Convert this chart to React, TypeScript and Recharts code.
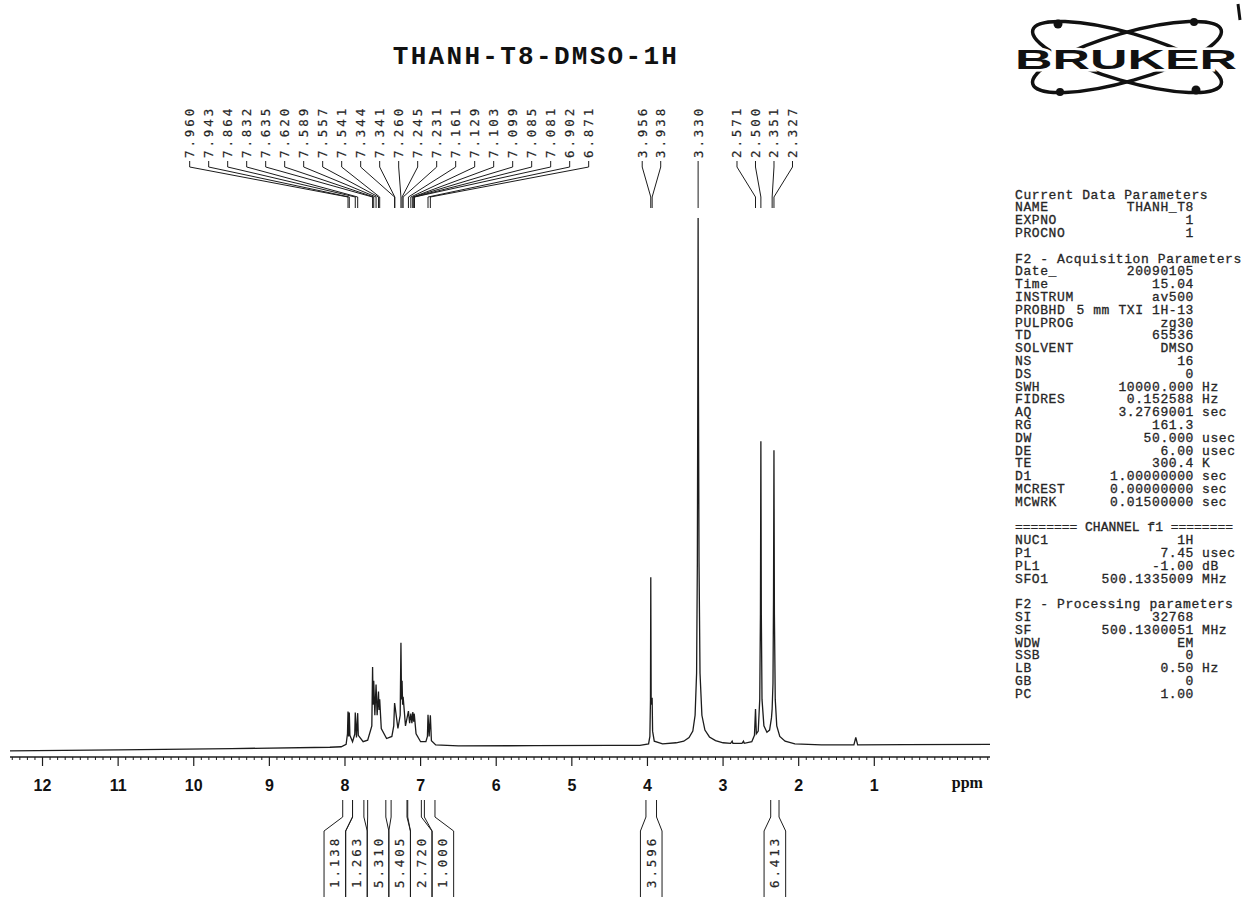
import { LineChart, Line, XAxis, YAxis, ReferenceDot } from "recharts";

// ppm axis (reversed) and intensity scale: the 3.330 ppm peak = 100
const X_MIN = -0.53;
const X_MAX = 12.43;
const Y_MIN = -1.89;
const Y_MAX = 100;
const CHART_W = 1000;
const CHART_H = 897;
const MARGIN = { top: 218, right: 10, bottom: 100, left: 10 };
const PX_PER_PPM = (CHART_W - MARGIN.left - MARGIN.right) / (X_MAX - X_MIN);

// spectrum trace, [ppm, intensity]
const baselineLeft = [
  [12.43, -0.75], [11.0, -0.55], [9.5, -0.3], [8.2, -0.05], [8.05, 0.05],
];
const aromaticTrace = [
  [7.985, 0.5], [7.967, 2.5], [7.96, 6.7], [7.952, 2.0], [7.943, 6.5], [7.935, 2.2],
  [7.9, 1.0], [7.871, 2.4], [7.864, 6.5], [7.848, 1.8], [7.832, 6.4], [7.824, 2.2],
  [7.76, 1.0], [7.7, 1.3], [7.645, 4], [7.635, 15.1], [7.628, 8], [7.62, 12.5],
  [7.605, 6], [7.589, 11.8], [7.575, 6], [7.557, 10.5], [7.549, 7], [7.541, 9],
  [7.52, 3.5], [7.45, 1.6], [7.38, 2.0], [7.355, 4], [7.344, 8.3], [7.341, 8.0],
  [7.3, 3.5], [7.27, 6], [7.26, 19.7], [7.252, 9], [7.245, 12.5], [7.238, 8],
  [7.231, 9.5], [7.2, 4], [7.161, 6.8], [7.145, 4.5], [7.129, 6.3], [7.115, 4.5],
  [7.103, 6.6], [7.099, 6.0], [7.092, 4.8], [7.085, 6.3], [7.081, 5.8], [7.06, 2.5],
  [7.0, 1.0], [6.93, 1.0], [6.91, 2.0], [6.902, 6.1], [6.887, 2.0], [6.871, 6.0],
  [6.857, 1.2], [6.8, 0.4],
];
const midBaseline = [[6.5, 0.2], [5.5, 0.25], [4.5, 0.3], [4.1, 0.3]];
const methoxyTrace = [
  [3.985, 0.6], [3.968, 2], [3.96, 9], [3.956, 32.1], [3.951, 9], [3.943, 8],
  [3.938, 9.3], [3.932, 3], [3.91, 1.1], [3.8, 0.6],
];
const waterTrace = [
  [3.62, 0.8], [3.52, 1.1], [3.45, 1.8], [3.4, 3.0], [3.37, 6], [3.35, 14],
  [3.34, 35], [3.334, 70], [3.33, 100], [3.326, 70], [3.318, 35], [3.305, 14],
  [3.28, 6], [3.24, 3.2], [3.18, 1.9], [3.1, 1.2], [3.0, 0.8],
];
const dmsoTrace = [
  [2.9, 0.7], [2.88, 1.1], [2.87, 0.7], [2.75, 0.7], [2.73, 1.1], [2.72, 0.7],
  [2.62, 1.0], [2.585, 2.2], [2.571, 7.2], [2.56, 2.5], [2.535, 3.0], [2.515, 9],
  [2.506, 25], [2.5, 57.8], [2.494, 25], [2.485, 9], [2.46, 4.0], [2.42, 2.8],
  [2.385, 3.2], [2.36, 5.5], [2.351, 7.2], [2.34, 12], [2.333, 28], [2.327, 56.1],
  [2.321, 25], [2.31, 9], [2.29, 4], [2.25, 2.0], [2.18, 1.1], [2.05, 0.6],
];
const baselineRight = [
  [1.7, 0.4], [1.27, 0.4], [1.245, 1.8], [1.22, 0.4], [0.6, 0.45], [-0.53, 0.5],
];

// peak picking labels
const aromaticShifts = [
  "7.960", "7.943", "7.864", "7.832", "7.635", "7.620", "7.589", "7.557", "7.541",
  "7.344", "7.341", "7.260", "7.245", "7.231", "7.161", "7.129", "7.103", "7.099",
  "7.085", "7.081", "6.902", "6.871",
];
const methoxyShifts = ["3.956", "3.938"];
const waterShifts = ["3.330"];
const methylShifts = ["2.571", "2.500", "2.351", "2.327"];

// integrals
const aromaticIntegrals = ["1.138", "1.263", "5.310", "5.405", "2.720", "1.000"];
const aromaticRanges = [
  [8.03, 7.9], [7.9, 7.75], [7.7, 7.46], [7.39, 7.18], [7.17, 6.99], [6.95, 6.81],
];
const methoxyIntegrals = ["3.596"];
const methoxyRanges = [[4.02, 3.88]];
const methylIntegrals = ["6.413"];
const methylRanges = [[2.37, 2.26]];

// axis
const majorTicks = [12, 11, 10, 9, 8, 7, 6, 5, 4, 3, 2, 1];
const majorTickLabels = ["12", "11", "10", "9", "8", "7", "6", "5", "4", "3", "2", "1"];
const unitTick = -0.23;
const unitLabel = "ppm";
const minorTicks = Array.from({ length: 130 }, (_, i) => Math.round(-5 + i) / 10);

// parameter listing
const currentParams = [["NAME", "THANH_T8", ""], ["EXPNO", "1", ""], ["PROCNO", "1", ""]];
const acquisitionParams = [
  ["Date_", "20090105", ""], ["Time", "15.04", ""], ["INSTRUM", "av500", ""],
  ["PROBHD", "5 mm TXI 1H-13", ""], ["PULPROG", "zg30", ""], ["TD", "65536", ""],
  ["SOLVENT", "DMSO", ""], ["NS", "16", ""], ["DS", "0", ""],
  ["SWH", "10000.000", "Hz"], ["FIDRES", "0.152588", "Hz"], ["AQ", "3.2769001", "sec"],
  ["RG", "161.3", ""], ["DW", "50.000", "usec"], ["DE", "6.00", "usec"],
  ["TE", "300.4", "K"], ["D1", "1.00000000", "sec"], ["MCREST", "0.00000000", "sec"],
  ["MCWRK", "0.01500000", "sec"],
];
const channelParams = [
  ["NUC1", "1H", ""], ["P1", "7.45", "usec"], ["PL1", "-1.00", "dB"],
  ["SFO1", "500.1335009", "MHz"],
];
const processingParams = [
  ["SI", "32768", ""], ["SF", "500.1300051", "MHz"], ["WDW", "EM", ""], ["SSB", "0", ""],
  ["LB", "0.50", "Hz"], ["GB", "0", ""], ["PC", "1.00", ""],
];

const spectrum = [
  ...baselineLeft, ...aromaticTrace, ...midBaseline, ...methoxyTrace,
  ...waterTrace, ...dmsoTrace, ...baselineRight,
].map(([ppm, v]) => ({ ppm, v }));

const INK = "#1c1c1c";
const TAG_FONT = {
  fontFamily: "DejaVu Sans Mono",
  fontSize: 12.5,
  letterSpacing: 2.9,
  fill: "#262626",
  stroke: "#262626",
  strokeWidth: 0.2,
};

function PeakTag({ cx, lx, text }: { cx: number; lx: number; text: string }) {
  return (
    <g>
      <text x={lx} y={158} transform={`rotate(-90 ${lx} 158)`} dominantBaseline="central" {...TAG_FONT}>
        {text}
      </text>
      <polyline
        points={`${lx},161 ${lx},167 ${cx},197 ${cx},208`}
        fill="none"
        stroke={INK}
        strokeWidth={1}
      />
    </g>
  );
}

function IntegralTag({ xa, xb, bl, br, bc, text }: any) {
  return (
    <g>
      <polyline points={`${xa},800 ${xa},817 ${bl},831 ${bl},897`} fill="none" stroke={INK} strokeWidth={1} />
      <polyline points={`${xb},800 ${xb},817 ${br},831 ${br},897`} fill="none" stroke={INK} strokeWidth={1} />
      <text x={bc} y={888} transform={`rotate(-90 ${bc} 888)`} dominantBaseline="central" {...TAG_FONT}>
        {text}
      </text>
    </g>
  );
}

function AxisTick(props: any) {
  const { x, y, payload } = props;
  const v = payload.value;
  if (v === unitTick) {
    return (
      <text x={x} y={y + 31} textAnchor="middle" fontFamily="Liberation Serif" fontWeight={700} fontSize={16} fill="#111">
        {unitLabel}
      </text>
    );
  }
  const mi = majorTicks.indexOf(v);
  if (mi >= 0) {
    return (
      <g>
        <line x1={x} y1={y} x2={x} y2={y + 9} stroke={INK} strokeWidth={1.2} />
        <text x={x} y={y + 34} textAnchor="middle" fontFamily="Liberation Sans" fontWeight={700} fontSize={16} fill="#111">
          {majorTickLabels[mi]}
        </text>
      </g>
    );
  }
  return <line x1={x} y1={y} x2={x} y2={y + 3} stroke={INK} strokeWidth={1} />;
}

const peakGroups = [
  { shifts: aromaticShifts, spacing: 19 },
  { shifts: methoxyShifts, spacing: 18.5 },
  { shifts: waterShifts, spacing: 18.5 },
  { shifts: methylShifts, spacing: 18.5 },
];
const integralGroups = [
  { labels: aromaticIntegrals, ranges: aromaticRanges },
  { labels: methoxyIntegrals, ranges: methoxyRanges },
  { labels: methylIntegrals, ranges: methylRanges },
];
const BOX_W = 21.6;

function ParamPanel() {
  const x0 = 1015;
  const valueEnd = 1194;
  const unitX = 1202;
  const step = 12.8;
  const rows: any[] = [];
  let y = 195;
  const heading = (t: string, fit?: number) => {
    rows.push({ y, head: t, fit });
    y += step;
  };
  const block = (list: string[][]) => {
    list.forEach((r) => {
      rows.push({ y, r });
      y += step;
    });
    y += step;
  };
  heading("Current Data Parameters");
  block(currentParams);
  heading("F2 - Acquisition Parameters");
  block(acquisitionParams);
  heading("======== CHANNEL f1 ========", 218);
  block(channelParams);
  heading("F2 - Processing parameters");
  block(processingParams);
  const font = {
    fontFamily: "Liberation Mono",
    fontSize: 13,
    letterSpacing: 0.6,
    fill: "#262626",
    stroke: "#262626",
    strokeWidth: 0.3,
  };
  return (
    <g>
      {rows.map((row, i) =>
        row.head ? (
          <text
            key={i}
            x={x0}
            y={row.y}
            dominantBaseline="central"
            {...font}
            {...(row.fit
              ? { textLength: row.fit, lengthAdjust: "spacingAndGlyphs", letterSpacing: 0, fontSize: 12 }
              : {})}
          >
            {row.head}
          </text>
        ) : (
          <g key={i}>
            <text x={x0} y={row.y} dominantBaseline="central" {...font}>{row.r[0]}</text>
            <text x={valueEnd} y={row.y} dominantBaseline="central" textAnchor="end" {...font} style={{ whiteSpace: "pre" }}>
              {row.r[1]}
            </text>
            {row.r[2] && (
              <text x={unitX} y={row.y} dominantBaseline="central" {...font}>{row.r[2]}</text>
            )}
          </g>
        )
      )}
    </g>
  );
}

function Logo() {
  const cx = 1127;
  const cy = 57;
  return (
    <g>
      <ellipse cx={cx} cy={cy} rx={98} ry={24} transform={`rotate(16 ${cx} ${cy})`} fill="none" stroke="#111" strokeWidth={3.5} />
      <ellipse cx={cx} cy={cy} rx={98} ry={24} transform={`rotate(-16 ${cx} ${cy})`} fill="none" stroke="#111" strokeWidth={3.5} />
      <circle cx={1058} cy={24} r={4.5} fill="#111" />
      <circle cx={1196} cy={90} r={4.5} fill="#111" />
      <circle cx={1060} cy={92} r={4} fill="#111" />
      <circle cx={1194} cy={22} r={4} fill="#111" />
      <text
        x={1015}
        y={cy + 12}
        fontFamily="Liberation Sans"
        fontWeight={900}
        fontSize={28}
        textLength={222}
        lengthAdjust="spacingAndGlyphs"
        fill="#111"
        stroke="#fff"
        strokeWidth={5}
        paintOrder="stroke"
      >
        BRUKER
      </text>
      <line x1={1238} y1={4} x2={1240} y2={20} stroke="#111" strokeWidth={3} />
    </g>
  );
}

export default function App() {
  return (
    <div style={{ position: "absolute", left: 0, top: 0, width: 1246, height: 897, background: "#fff" }}>
      <div style={{ position: "absolute", left: 0, top: 0 }}>
        <LineChart width={CHART_W} height={CHART_H} data={spectrum} margin={MARGIN}>
          <XAxis
            dataKey="ppm"
            type="number"
            domain={[X_MIN, X_MAX]}
            reversed
            allowDataOverflow
            ticks={[...minorTicks, unitTick]}
            interval={0}
            tick={AxisTick}
            tickLine={false}
            tickSize={0}
            tickMargin={0}
            height={40}
            axisLine={{ stroke: INK, strokeWidth: 1.3 }}
          />
          <YAxis hide type="number" domain={[Y_MIN, Y_MAX]} allowDataOverflow />
          <Line
            dataKey="v"
            type="linear"
            stroke={INK}
            strokeWidth={1.3}
            dot={false}
            isAnimationActive={false}
          />
          {peakGroups.flatMap((g, gi) => {
            const vals = g.shifts.map(Number);
            const center = (Math.max(...vals) + Math.min(...vals)) / 2;
            return vals.map((ppm, i) => (
              <ReferenceDot
                key={`pk-${gi}-${i}`}
                x={ppm}
                y={0}
                ifOverflow="visible"
                shape={(p: any) => {
                  const gx = p.cx + (ppm - center) * PX_PER_PPM;
                  const lx = gx + (i - (vals.length - 1) / 2) * g.spacing;
                  return <PeakTag cx={p.cx} lx={lx} text={g.shifts[i]} />;
                }}
              />
            ));
          })}
          {integralGroups.flatMap((g, gi) => {
            const all = g.ranges.flat();
            const gmid = (Math.max(...all) + Math.min(...all)) / 2;
            return g.ranges.map(([a, b], i) => {
              const mid = (a + b) / 2;
              return (
                <ReferenceDot
                  key={`in-${gi}-${i}`}
                  x={mid}
                  y={0}
                  ifOverflow="visible"
                  shape={(p: any) => {
                    const xa = p.cx + (mid - a) * PX_PER_PPM;
                    const xb = p.cx + (mid - b) * PX_PER_PPM;
                    const gx = p.cx + (mid - gmid) * PX_PER_PPM;
                    const bc = gx + (i - (g.ranges.length - 1) / 2) * BOX_W;
                    return (
                      <IntegralTag xa={xa} xb={xb} bl={bc - BOX_W / 2} br={bc + BOX_W / 2} bc={bc} text={g.labels[i]} />
                    );
                  }}
                />
              );
            });
          })}
        </LineChart>
      </div>
      <svg width={1246} height={897} style={{ position: "absolute", left: 0, top: 0, pointerEvents: "none" }}>
        <text
          x={536}
          y={64}
          textAnchor="middle"
          fontFamily="Liberation Mono"
          fontWeight={700}
          fontSize={26}
          letterSpacing={2.3}
          fill="#111"
        >
          THANH-T8-DMSO-1H
        </text>
        <Logo />
        <ParamPanel />
      </svg>
    </div>
  );
}
